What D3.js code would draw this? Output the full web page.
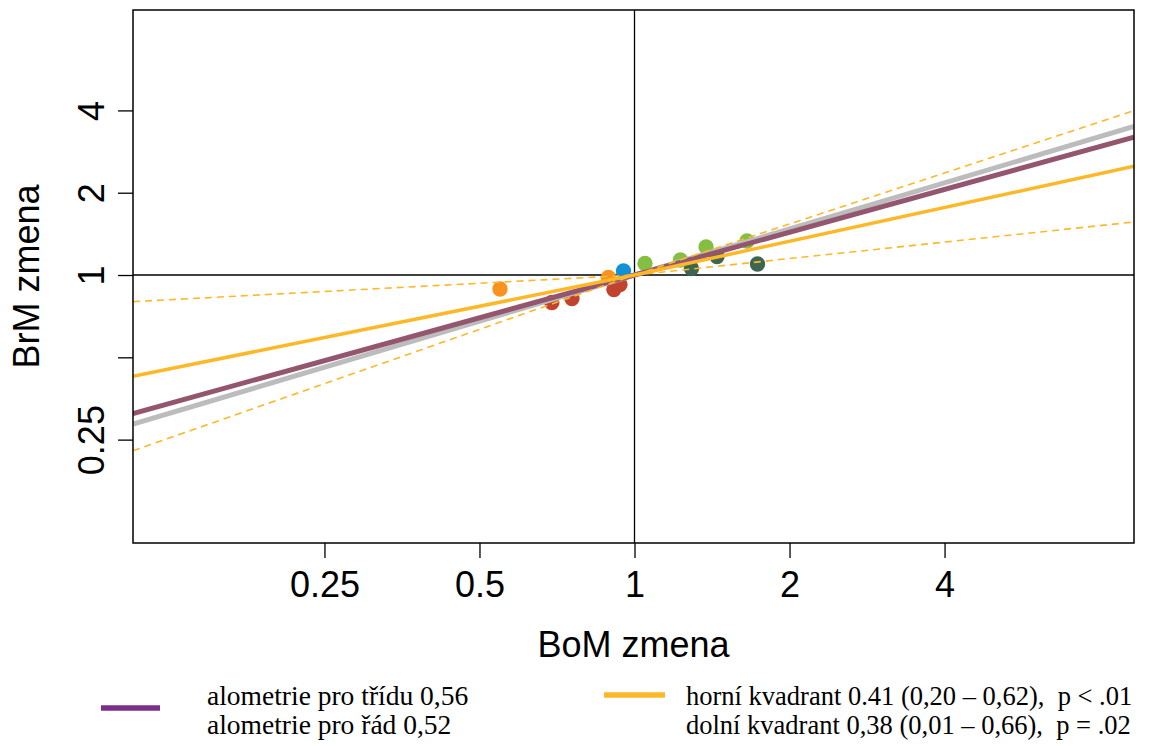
<!DOCTYPE html>
<html>
<head>
<meta charset="utf-8">
<script src="https://cdn.jsdelivr.net/npm/d3@7"></script>
<style>
  html, body { margin: 0; padding: 0; background: #ffffff; }
  svg { display: block; }
</style>
</head>
<body>
<svg id="chart" width="1152" height="746"></svg>
<script>
// ---------- data ----------
const xTicks = [0.25, 0.5, 1, 2, 4];
const xTickLabels = ["0.25", "0.5", "1", "2", "4"];
const yTicks = [0.25, 0.5, 1, 2, 4];
const yTickLabels = ["0.25", "", "1", "2", "4"];

const groupNames = ["orange", "red", "blue", "lightgreen", "darkgreen"];
const groupColors = ["#f7931e", "#c1432f", "#1190d8", "#84bf41", "#3d6551"];
const pointX = [0.548, 0.890, 0.691, 0.756, 0.912, 0.937, 0.952, 1.048, 1.228, 1.377, 1.654, 1.290, 1.446, 1.733];
const pointY = [0.889, 0.979, 0.793, 0.820, 0.885, 0.923, 1.034, 1.102, 1.135, 1.266, 1.332, 1.056, 1.169, 1.097];
const pointGroup = [0, 0, 1, 1, 1, 1, 2, 3, 3, 3, 3, 4, 4, 4];

// allometric slopes through (1,1)
const slopeClass = 0.56;   // grey
const slopeOrder = 0.52;   // mauve
const slopeUpper = 0.41;   // upper quadrant (x>1)
const slopeLower = 0.38;   // lower quadrant (x<1)
const ciUpper = [0.20, 0.62];
const ciLower = [0.10, 0.66];

const legendLeft = ["alometrie pro třídu 0,56", "alometrie pro řád 0,52"];
const legendRight = ["horní kvadrant 0.41 (0,20 – 0,62),  p < .01", "dolní kvadrant 0,38 (0,01 – 0,66),  p = .02"];

// ---------- layout ----------
const svg = d3.select("#chart");
const L = 133, R = 1134, T = 10, B = 543;
const xDom = [Math.pow(2, -3.235), Math.pow(2, 3.222)];
const yDom = [Math.pow(2, -3.256), Math.pow(2, 3.220)];
const x = d3.scaleLog().base(2).domain(xDom).range([L, R]);
const y = d3.scaleLog().base(2).domain(yDom).range([B, T]);

svg.append("defs").append("clipPath").attr("id", "clip")
  .append("rect").attr("x", L).attr("y", T).attr("width", R - L).attr("height", B - T);

const plot = svg.append("g").attr("clip-path", "url(#clip)");

// crosshair at 1,1
plot.append("line").attr("x1", x(1)).attr("x2", x(1)).attr("y1", T).attr("y2", B)
  .attr("stroke", "#000").attr("stroke-width", 1.3);
plot.append("line").attr("x1", L).attr("x2", R).attr("y1", y(1)).attr("y2", y(1))
  .attr("stroke", "#000").attr("stroke-width", 1.3);

// points
plot.selectAll("circle.pt").data(pointX.map((v, i) => ({x: v, y: pointY[i], g: pointGroup[i]})))
  .enter().append("circle").attr("class", "pt")
  .attr("cx", d => x(d.x)).attr("cy", d => y(d.y)).attr("r", 7.7)
  .attr("fill", d => groupColors[d.g]);

// line helper: segment through (1,1) with slope b from x0 to x1
function seg(b, x0, x1) {
  return [[x0, Math.pow(x0, b)], [x1, Math.pow(x1, b)]];
}
const lineGen = d3.line().x(d => x(d[0])).y(d => y(d[1]));

plot.append("path").attr("d", lineGen(seg(slopeClass, xDom[0], xDom[1])))
  .attr("stroke", "#bcbcbc").attr("stroke-width", 5).attr("fill", "none");
plot.append("path").attr("d", lineGen(seg(slopeOrder, xDom[0], xDom[1])))
  .attr("stroke", "#94566f").attr("stroke-width", 5).attr("fill", "none");

plot.append("path").attr("d", lineGen(seg(slopeLower, xDom[0], 1)))
  .attr("stroke", "#fdb827").attr("stroke-width", 3.5).attr("fill", "none");
plot.append("path").attr("d", lineGen(seg(slopeUpper, 1, xDom[1])))
  .attr("stroke", "#fdb827").attr("stroke-width", 3.5).attr("fill", "none");

ciLower.forEach(b => {
  plot.append("path").attr("d", lineGen(seg(b, xDom[0], 1)))
    .attr("stroke", "#fdb827").attr("stroke-width", 1.6).attr("stroke-dasharray", "7,5").attr("fill", "none");
});
ciUpper.forEach(b => {
  plot.append("path").attr("d", lineGen(seg(b, 1, xDom[1])))
    .attr("stroke", "#fdb827").attr("stroke-width", 1.6).attr("stroke-dasharray", "7,5").attr("fill", "none");
});

// frame
svg.append("rect").attr("x", L).attr("y", T).attr("width", R - L).attr("height", B - T)
  .attr("fill", "none").attr("stroke", "#000").attr("stroke-width", 1.5);

// axes
const fontAxis = "'Liberation Sans', Arial, Helvetica, sans-serif";
const xAxis = svg.append("g").attr("transform", `translate(0,${B})`)
  .call(d3.axisBottom(x).tickValues(xTicks).tickSize(15)
    .tickFormat((d, i) => xTickLabels[i]));
xAxis.select(".domain").remove();
xAxis.selectAll(".tick line").attr("stroke", "#000").attr("stroke-width", 1.3);
xAxis.selectAll(".tick text").attr("y", 54).attr("dy", "0")
  .attr("fill", "#000").style("font-family", fontAxis).style("font-size", "36px");

const yAxis = svg.append("g").attr("transform", `translate(${L},0)`)
  .call(d3.axisLeft(y).tickValues(yTicks).tickSize(15)
    .tickFormat((d, i) => yTickLabels[i]));
yAxis.select(".domain").remove();
yAxis.selectAll(".tick line").attr("stroke", "#000").attr("stroke-width", 1.3);
yAxis.selectAll(".tick text")
  .attr("transform", "rotate(-90)").attr("x", 0).attr("y", -29).attr("dy", "0")
  .style("text-anchor", "middle")
  .attr("fill", "#000").style("font-family", fontAxis).style("font-size", "36px");

// titles
svg.append("text").attr("x", (L + R) / 2).attr("y", 657).attr("text-anchor", "middle")
  .style("font-family", fontAxis).style("font-size", "36px").text("BoM zmena");
svg.append("text").attr("transform", `translate(39,${(T + B) / 2}) rotate(-90)`).attr("text-anchor", "middle")
  .style("font-family", fontAxis).style("font-size", "36px").text("BrM zmena");

// legend
const fontLeg = "'Liberation Serif', 'Times New Roman', serif";
svg.append("line").attr("x1", 101).attr("x2", 160).attr("y1", 708).attr("y2", 708)
  .attr("stroke", "#7d2e8a").attr("stroke-width", 5.5);
svg.append("line").attr("x1", 604).attr("x2", 665).attr("y1", 695).attr("y2", 695)
  .attr("stroke", "#fdb827").attr("stroke-width", 5.5);

const legBase = [705, 734];
legendLeft.forEach((t, i) => {
  svg.append("text").attr("x", 207).attr("y", legBase[i])
    .style("font-family", fontLeg).style("font-size", "27.5px").style("white-space", "pre").text(t);
});
legendRight.forEach((t, i) => {
  svg.append("text").attr("x", 686).attr("y", legBase[i])
    .style("font-family", fontLeg).style("font-size", "26.5px").style("white-space", "pre").text(t);
});
</script>
</body>
</html>
